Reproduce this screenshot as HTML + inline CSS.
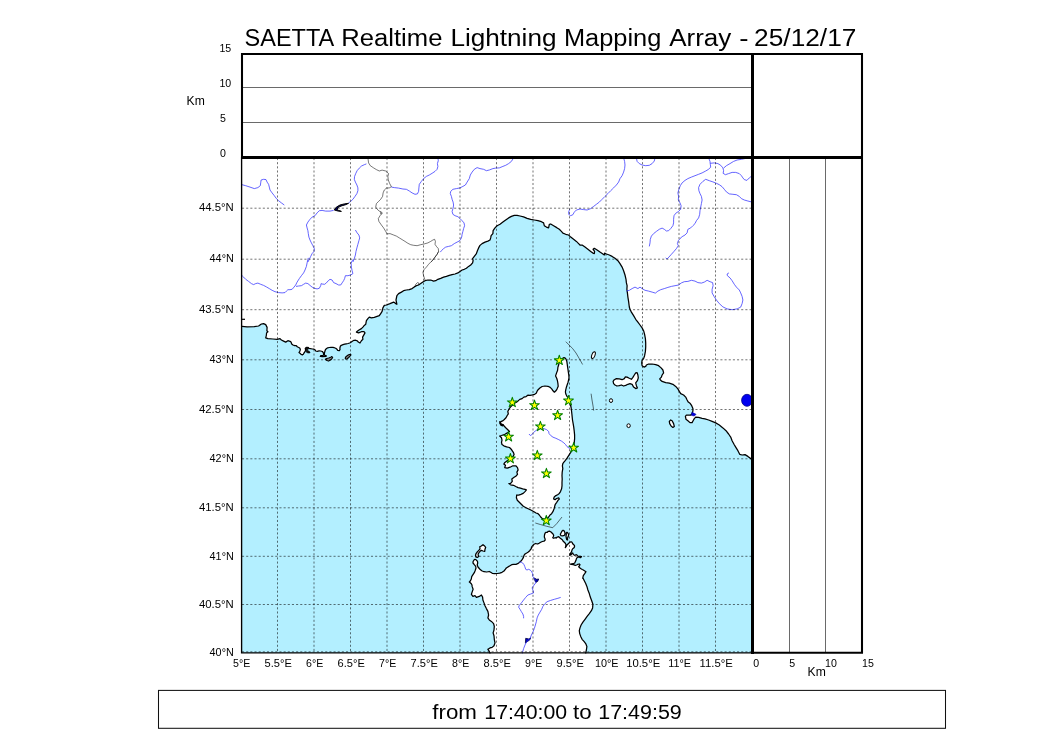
<!DOCTYPE html>
<html><head><meta charset="utf-8"><title>SAETTA Realtime Lightning Mapping Array</title>
<style>html,body{margin:0;padding:0;background:#fff;}svg{display:block;font-family:"Liberation Sans",sans-serif;will-change:transform;}</style>
</head><body>
<svg width="1050" height="750" viewBox="0 0 1050 750">
<rect width="1050" height="750" fill="#fff"/>
<rect x="242" y="157" width="510" height="496" fill="#b3efff"/>
<path d="M242.0 326.4 L247.1 326.9 L254.3 326.6 L258.6 326.0 L261.4 324.0 L263.6 323.6 L265.7 324.6 L267.1 327.4 L266.9 330.7 L267.9 331.7 L266.6 332.9 L266.3 335.7 L265.7 337.9 L267.9 338.6 L272.9 339.0 L277.1 339.3 L280.0 338.6 L281.4 340.0 L283.6 341.1 L285.7 342.1 L287.9 340.7 L290.0 341.3 L291.0 342.0 L291.7 344.0 L293.0 345.0 L294.7 345.7 L296.3 345.7 L297.3 346.7 L298.3 347.3 L299.7 348.0 L300.3 349.3 L300.0 351.0 L299.0 352.5 L300.0 353.3 L301.0 354.3 L302.3 354.9 L303.3 354.3 L304.0 353.0 L305.0 351.7 L305.7 350.0 L305.3 348.7 L306.3 347.7 L308.0 347.5 L309.0 348.3 L310.7 348.7 L312.3 349.0 L313.7 349.1 L315.0 349.7 L315.7 351.0 L317.3 351.3 L319.0 350.9 L320.7 351.0 L322.3 351.5 L323.3 352.7 L323.7 354.3 L323.3 355.3 L320.7 355.7 L320.3 356.5 L322.7 356.7 L326.0 356.5 L326.3 355.8 L324.7 355.3 L324.3 354.0 L324.7 352.0 L325.3 350.0 L326.3 348.7 L327.7 347.8 L329.3 347.5 L331.0 347.3 L332.7 347.3 L334.3 347.7 L335.7 348.3 L337.0 349.3 L337.7 350.3 L339.3 350.7 L340.0 349.7 L339.9 348.0 L340.3 346.3 L341.3 345.3 L343.0 344.7 L344.7 344.2 L346.3 343.8 L348.0 343.5 L349.7 343.0 L351.0 342.3 L352.3 341.3 L354.0 340.3 L355.7 340.2 L357.3 340.9 L358.3 342.0 L360.0 343.0 L361.4 340.7 L362.9 339.3 L362.6 337.1 L363.6 335.4 L365.0 332.9 L364.0 331.7 L361.4 331.7 L358.6 332.9 L356.4 332.1 L358.6 330.3 L361.4 328.6 L362.9 327.1 L364.3 325.4 L365.7 324.3 L366.4 320.7 L367.9 318.6 L369.3 317.1 L371.4 317.9 L374.3 317.4 L377.1 316.4 L379.3 315.7 L380.7 313.6 L382.1 311.4 L382.9 307.9 L384.3 305.4 L386.4 305.0 L390.0 303.6 L393.6 302.1 L395.7 303.6 L396.9 304.3 L396.0 300.0 L396.9 295.7 L398.6 293.6 L401.4 292.1 L403.6 290.7 L406.4 290.0 L409.3 289.7 L412.1 288.6 L414.3 286.9 L416.4 285.7 L418.6 285.0 L420.7 283.6 L422.9 282.1 L425.0 280.7 L427.9 280.0 L430.7 280.0 L433.6 281.1 L435.7 280.7 L437.9 279.3 L440.7 278.3 L443.6 277.1 L446.4 276.4 L449.3 275.4 L452.1 274.6 L455.0 274.0 L457.9 272.9 L460.0 271.4 L462.1 270.0 L464.3 269.3 L466.4 268.3 L468.6 266.4 L470.7 265.0 L472.6 262.9 L473.1 260.7 L472.6 258.6 L474.3 256.4 L476.4 253.6 L477.4 250.7 L478.6 247.9 L480.0 245.4 L482.1 243.6 L485.0 242.1 L487.9 241.1 L490.0 240.0 L490.7 237.9 L491.1 235.7 L492.9 233.6 L493.1 230.7 L495.0 227.9 L497.1 225.7 L500.0 224.3 L502.9 222.1 L505.7 220.0 L508.6 217.9 L511.4 216.4 L514.3 215.4 L517.1 215.4 L520.0 216.0 L523.6 216.9 L527.1 218.3 L530.7 219.3 L534.3 220.0 L537.9 220.7 L541.4 221.7 L543.6 222.9 L544.3 225.7 L546.4 227.1 L548.6 227.9 L549.3 224.3 L550.7 224.0 L553.6 225.7 L556.4 227.4 L559.3 229.3 L561.4 231.4 L562.9 233.1 L565.7 234.3 L568.6 235.0 L570.7 237.1 L573.6 239.3 L576.4 241.4 L578.6 243.6 L580.0 245.0 L582.1 245.0 L585.0 247.1 L587.9 249.3 L590.7 251.4 L592.9 253.1 L594.3 253.6 L594.6 251.4 L593.1 249.3 L594.3 248.3 L597.1 250.0 L600.0 252.1 L602.9 254.0 L604.3 255.0 L604.6 253.1 L606.4 254.0 L609.3 255.0 L612.1 256.4 L615.0 258.3 L617.9 260.7 L620.0 263.6 L622.1 267.1 L623.6 270.7 L625.0 275.0 L626.0 279.3 L626.4 282.9 L627.1 285.7 L626.9 289.3 L627.4 292.9 L627.9 297.1 L628.6 301.4 L629.3 307.0 L630.0 309.3 L631.4 312.1 L633.6 315.7 L635.7 319.3 L637.9 322.1 L640.0 325.0 L642.1 327.9 L643.6 330.7 L644.6 334.3 L645.4 338.6 L645.7 342.9 L645.7 347.1 L645.4 351.4 L644.6 355.7 L643.6 358.6 L642.1 360.3 L641.7 362.9 L642.1 365.7 L644.0 367.1 L645.7 366.4 L646.4 365.0 L648.6 364.0 L652.1 364.0 L655.7 364.6 L658.6 365.7 L661.1 367.9 L662.9 370.0 L663.6 372.9 L662.1 375.0 L661.4 377.1 L659.7 378.9 L660.7 380.3 L662.1 381.4 L665.7 382.6 L669.3 383.1 L672.9 384.3 L675.7 386.4 L677.9 388.9 L679.3 391.4 L680.7 393.6 L683.6 395.0 L685.7 397.1 L687.1 400.0 L688.3 402.1 L690.3 403.6 L691.7 405.7 L692.9 408.6 L692.9 411.1 L692.1 413.6 L690.7 415.0 L686.4 415.0 L685.4 416.4 L686.0 419.3 L687.9 420.7 L690.0 422.6 L692.1 422.6 L693.1 420.7 L694.3 418.6 L695.7 417.1 L698.6 417.4 L702.1 418.3 L705.0 418.9 L708.6 420.0 L712.1 421.4 L715.7 422.9 L719.3 425.0 L722.9 427.9 L726.0 430.7 L728.6 434.0 L730.7 437.1 L732.1 440.7 L734.0 444.3 L735.7 447.1 L737.9 450.7 L739.7 454.3 L742.1 455.0 L745.0 454.6 L747.9 456.4 L750.7 458.6 L752.9 459.7 L760.0 459.5 L760.0 140.0 L230.0 140.0 L230.0 326.4Z" fill="#fff" stroke="none"/>
<path d="M564.0 357.6 L565.2 358.0 L566.0 359.2 L566.8 361.2 L567.2 364.0 L567.6 366.8 L568.0 369.6 L568.4 372.4 L568.8 375.2 L569.0 377.6 L568.6 380.0 L568.0 382.4 L567.2 384.8 L566.4 387.2 L565.8 389.6 L565.4 392.0 L565.8 394.0 L566.8 396.0 L568.0 397.6 L570.2 403.5 L571.1 407.5 L571.6 411.5 L572.1 416.1 L572.5 420.0 L573.1 423.4 L573.7 426.9 L574.2 430.9 L574.6 434.9 L574.6 438.9 L574.2 442.9 L573.7 446.9 L571.9 450.4 L570.2 453.2 L568.5 455.8 L567.0 458.1 L565.4 460.3 L563.9 462.2 L562.8 463.6 L562.4 465.8 L562.8 468.7 L562.2 472.1 L562.0 475.6 L562.2 479.0 L562.0 482.5 L562.0 485.9 L561.6 488.8 L560.5 491.6 L559.3 493.4 L557.6 494.7 L555.9 495.6 L554.2 497.0 L553.6 498.9 L555.1 499.7 L556.5 498.5 L558.8 497.9 L559.3 499.1 L558.0 500.3 L556.7 502.3 L555.3 504.3 L554.7 506.3 L554.0 509.0 L552.9 511.7 L551.6 513.7 L550.0 515.0 L548.7 517.0 L546.7 518.7 L544.0 519.3 L542.0 518.3 L540.7 517.0 L539.3 515.0 L538.0 513.7 L536.0 513.0 L534.0 511.7 L531.3 510.3 L528.7 509.0 L526.0 507.7 L523.3 506.3 L521.3 504.3 L519.3 502.3 L517.3 500.3 L516.4 497.7 L516.7 495.0 L518.7 495.1 L520.9 494.3 L523.2 493.4 L525.0 491.6 L526.4 489.9 L525.0 489.3 L522.7 488.8 L520.4 488.2 L518.1 487.6 L515.8 486.5 L513.5 485.3 L510.6 484.8 L508.9 483.6 L510.6 483.3 L512.3 481.3 L511.8 479.0 L514.1 477.3 L515.8 476.2 L517.5 474.4 L516.9 472.1 L518.1 469.9 L517.5 467.6 L515.8 465.8 L512.9 465.8 L510.1 467.2 L507.2 468.1 L504.7 467.6 L505.5 465.3 L503.8 464.1 L504.9 462.4 L507.2 460.7 L510.1 459.0 L512.9 456.7 L514.1 454.4 L513.5 452.7 L512.3 450.9 L511.2 449.2 L509.5 447.5 L506.6 446.9 L503.8 445.8 L502.0 444.6 L501.5 442.3 L502.0 440.1 L501.5 437.8 L499.7 436.0 L501.5 435.5 L504.9 434.3 L507.8 432.6 L509.5 431.5 L507.8 429.7 L506.0 428.0 L504.3 426.3 L503.2 424.6 L500.9 424.0 L499.7 421.7 L502.6 425.8 L500.9 425.2 L499.7 422.9 L500.9 421.6 L502.6 420.9 L504.3 419.5 L506.0 417.8 L507.2 415.5 L508.3 413.8 L507.8 411.5 L508.9 409.2 L510.6 406.9 L512.3 405.2 L514.1 403.5 L516.4 402.3 L518.1 400.9 L519.8 399.4 L522.1 398.6 L523.8 397.1 L526.1 396.6 L527.8 395.2 L530.1 395.4 L532.4 394.9 L534.7 394.3 L536.4 393.1 L537.0 391.4 L538.1 389.7 L539.9 388.0 L542.1 386.5 L545.0 386.0 L547.9 386.3 L550.2 387.4 L551.9 389.1 L553.0 390.8 L554.4 392.2 L555.9 390.8 L557.0 389.1 L558.2 386.3 L557.9 383.4 L557.4 380.5 L556.7 378.2 L555.6 375.9 L556.5 373.1 L557.6 370.2 L557.9 367.3 L558.8 364.5 L559.3 361.6 L561.1 359.3ZM475.0 559.3 L476.3 560.0 L477.5 561.3 L477.7 563.0 L477.2 565.0 L478.0 567.0 L479.7 569.0 L481.7 570.7 L484.0 571.7 L486.7 572.0 L489.3 571.5 L490.7 572.3 L492.3 573.3 L494.7 573.7 L497.3 573.5 L499.7 573.1 L502.0 572.3 L504.0 571.0 L505.3 569.3 L506.3 568.0 L508.0 566.9 L510.0 565.7 L511.7 564.7 L513.7 564.3 L516.0 564.3 L517.7 563.7 L519.3 562.5 L521.0 561.0 L522.3 559.3 L523.3 557.7 L524.0 555.3 L525.0 554.0 L526.7 553.0 L528.3 552.0 L529.7 550.7 L531.0 549.0 L532.0 547.3 L531.3 547.3 L532.7 545.7 L534.0 544.3 L535.7 543.5 L537.3 544.0 L539.0 543.3 L540.7 542.3 L542.3 541.5 L544.0 541.2 L545.2 540.0 L545.0 538.7 L544.3 537.0 L544.5 535.0 L545.0 533.3 L546.0 532.3 L547.3 532.3 L548.3 531.3 L549.7 531.2 L551.0 532.0 L552.0 533.0 L553.0 534.0 L553.7 535.3 L553.3 536.7 L552.7 537.7 L553.7 538.3 L555.0 537.7 L556.3 538.0 L557.3 537.0 L558.7 536.7 L559.7 537.7 L561.0 538.7 L562.3 539.7 L563.0 541.0 L564.3 542.3 L565.3 543.3 L566.0 544.7 L565.7 546.3 L565.3 547.7 L566.3 546.3 L567.0 545.0 L568.0 544.0 L569.0 543.0 L570.0 542.3 L571.0 541.7 L572.0 542.3 L572.7 543.7 L573.7 544.7 L574.5 545.7 L574.5 547.0 L573.7 548.0 L572.7 548.7 L572.0 550.0 L571.7 551.3 L571.0 552.7 L570.0 554.0 L569.7 555.3 L570.7 555.0 L571.7 554.0 L572.7 553.0 L573.3 554.0 L574.0 555.0 L575.0 555.3 L576.0 554.7 L577.0 555.0 L577.7 556.0 L579.0 556.3 L580.3 556.3 L581.5 556.7 L580.3 557.7 L579.3 557.0 L578.0 557.0 L577.0 557.7 L576.3 559.0 L576.0 560.3 L575.3 561.7 L574.7 563.0 L573.3 563.7 L571.3 563.9 L569.7 564.0 L571.3 564.5 L573.3 564.7 L575.3 565.3 L576.7 565.0 L577.7 564.3 L579.3 564.0 L580.0 564.7 L579.3 566.0 L578.7 566.7 L579.7 567.7 L581.0 568.7 L582.3 569.5 L583.3 570.0 L586.0 571.7 L584.7 573.7 L583.3 575.7 L582.7 578.3 L582.9 577.9 L584.3 580.7 L585.7 583.6 L586.9 586.4 L587.9 590.0 L589.3 593.6 L590.3 597.1 L591.7 600.7 L592.9 604.3 L592.6 607.9 L591.4 610.7 L589.3 613.6 L587.1 616.4 L585.0 619.3 L582.9 622.1 L581.1 625.0 L580.0 627.9 L579.3 630.7 L579.7 633.6 L580.7 636.4 L582.1 639.3 L584.0 641.4 L585.7 643.6 L586.9 646.4 L586.4 650.0 L585.7 652.9 L585.7 660.0 L490.0 660.0 L490.0 652.9 L489.3 651.4 L487.9 649.3 L490.0 647.9 L492.1 647.4 L494.0 645.7 L495.0 642.9 L494.3 639.3 L494.0 635.7 L493.1 632.9 L494.0 630.0 L494.3 626.4 L493.6 623.6 L491.4 621.4 L489.3 620.0 L487.9 617.9 L488.6 615.0 L487.9 611.4 L486.4 608.6 L485.0 605.7 L484.0 602.9 L482.9 600.0 L482.6 597.1 L481.4 595.0 L479.3 596.4 L476.4 597.4 L475.0 595.7 L472.9 596.4 L471.4 594.3 L472.1 592.1 L473.1 589.3 L472.1 586.4 L472.0 585.0 L471.3 583.7 L470.3 582.7 L469.3 582.0 L470.3 581.0 L471.3 579.0 L471.7 576.7 L473.0 574.7 L474.3 572.7 L475.3 570.3 L476.0 568.0 L475.7 566.3 L474.3 564.7 L473.0 563.0 L473.0 561.7 L474.0 560.0ZM613.1 381.4 L614.3 379.7 L616.4 378.6 L619.3 378.9 L622.1 379.7 L624.3 378.6 L625.4 376.9 L627.1 377.1 L629.3 378.3 L631.4 379.3 L632.9 377.4 L634.3 375.0 L635.7 372.9 L637.1 372.6 L637.9 375.0 L638.3 377.9 L637.4 380.7 L635.7 382.9 L636.4 385.7 L637.4 387.9 L635.7 388.6 L633.6 387.1 L632.1 384.3 L630.0 383.6 L627.9 384.3 L625.7 385.4 L623.6 386.0 L621.4 385.0 L619.3 385.7 L616.9 386.0 L615.0 385.0 L613.6 383.6ZM669.3 421.4 L670.7 420.0 L672.1 420.7 L673.6 423.6 L674.3 426.4 L672.9 427.4 L671.1 426.0 L669.7 423.6ZM479.7 546.7 L481.3 546.0 L483.0 544.7 L484.3 545.7 L485.7 547.3 L485.0 549.3 L484.7 551.3 L483.0 551.0 L481.3 550.3 L480.7 550.7 L479.5 552.0 L478.3 553.7 L478.1 555.0 L478.8 556.3 L477.7 557.3 L476.0 557.1 L475.5 555.3 L476.0 553.7 L477.0 552.3 L478.3 550.9 L479.9 549.1 L480.0 548.0ZM560.3 534.3 L561.0 533.0 L561.9 531.3 L563.0 530.3 L564.0 530.7 L564.7 532.0 L565.0 533.7 L564.7 535.0 L563.7 535.7 L562.3 535.9 L561.0 535.7ZM566.3 533.0 L567.0 532.3 L568.0 533.3 L568.7 534.7 L568.3 536.3 L567.7 537.7 L567.3 539.0 L567.7 540.0 L566.7 539.7 L566.3 538.0 L566.0 536.3 L566.3 534.7Z" fill="#fff" stroke="none"/>
<path d="M242.0 326.4 L247.1 326.9 L254.3 326.6 L258.6 326.0 L261.4 324.0 L263.6 323.6 L265.7 324.6 L267.1 327.4 L266.9 330.7 L267.9 331.7 L266.6 332.9 L266.3 335.7 L265.7 337.9 L267.9 338.6 L272.9 339.0 L277.1 339.3 L280.0 338.6 L281.4 340.0 L283.6 341.1 L285.7 342.1 L287.9 340.7 L290.0 341.3 L291.0 342.0 L291.7 344.0 L293.0 345.0 L294.7 345.7 L296.3 345.7 L297.3 346.7 L298.3 347.3 L299.7 348.0 L300.3 349.3 L300.0 351.0 L299.0 352.5 L300.0 353.3 L301.0 354.3 L302.3 354.9 L303.3 354.3 L304.0 353.0 L305.0 351.7 L305.7 350.0 L305.3 348.7 L306.3 347.7 L308.0 347.5 L309.0 348.3 L310.7 348.7 L312.3 349.0 L313.7 349.1 L315.0 349.7 L315.7 351.0 L317.3 351.3 L319.0 350.9 L320.7 351.0 L322.3 351.5 L323.3 352.7 L323.7 354.3 L323.3 355.3 L320.7 355.7 L320.3 356.5 L322.7 356.7 L326.0 356.5 L326.3 355.8 L324.7 355.3 L324.3 354.0 L324.7 352.0 L325.3 350.0 L326.3 348.7 L327.7 347.8 L329.3 347.5 L331.0 347.3 L332.7 347.3 L334.3 347.7 L335.7 348.3 L337.0 349.3 L337.7 350.3 L339.3 350.7 L340.0 349.7 L339.9 348.0 L340.3 346.3 L341.3 345.3 L343.0 344.7 L344.7 344.2 L346.3 343.8 L348.0 343.5 L349.7 343.0 L351.0 342.3 L352.3 341.3 L354.0 340.3 L355.7 340.2 L357.3 340.9 L358.3 342.0 L360.0 343.0 L361.4 340.7 L362.9 339.3 L362.6 337.1 L363.6 335.4 L365.0 332.9 L364.0 331.7 L361.4 331.7 L358.6 332.9 L356.4 332.1 L358.6 330.3 L361.4 328.6 L362.9 327.1 L364.3 325.4 L365.7 324.3 L366.4 320.7 L367.9 318.6 L369.3 317.1 L371.4 317.9 L374.3 317.4 L377.1 316.4 L379.3 315.7 L380.7 313.6 L382.1 311.4 L382.9 307.9 L384.3 305.4 L386.4 305.0 L390.0 303.6 L393.6 302.1 L395.7 303.6 L396.9 304.3 L396.0 300.0 L396.9 295.7 L398.6 293.6 L401.4 292.1 L403.6 290.7 L406.4 290.0 L409.3 289.7 L412.1 288.6 L414.3 286.9 L416.4 285.7 L418.6 285.0 L420.7 283.6 L422.9 282.1 L425.0 280.7 L427.9 280.0 L430.7 280.0 L433.6 281.1 L435.7 280.7 L437.9 279.3 L440.7 278.3 L443.6 277.1 L446.4 276.4 L449.3 275.4 L452.1 274.6 L455.0 274.0 L457.9 272.9 L460.0 271.4 L462.1 270.0 L464.3 269.3 L466.4 268.3 L468.6 266.4 L470.7 265.0 L472.6 262.9 L473.1 260.7 L472.6 258.6 L474.3 256.4 L476.4 253.6 L477.4 250.7 L478.6 247.9 L480.0 245.4 L482.1 243.6 L485.0 242.1 L487.9 241.1 L490.0 240.0 L490.7 237.9 L491.1 235.7 L492.9 233.6 L493.1 230.7 L495.0 227.9 L497.1 225.7 L500.0 224.3 L502.9 222.1 L505.7 220.0 L508.6 217.9 L511.4 216.4 L514.3 215.4 L517.1 215.4 L520.0 216.0 L523.6 216.9 L527.1 218.3 L530.7 219.3 L534.3 220.0 L537.9 220.7 L541.4 221.7 L543.6 222.9 L544.3 225.7 L546.4 227.1 L548.6 227.9 L549.3 224.3 L550.7 224.0 L553.6 225.7 L556.4 227.4 L559.3 229.3 L561.4 231.4 L562.9 233.1 L565.7 234.3 L568.6 235.0 L570.7 237.1 L573.6 239.3 L576.4 241.4 L578.6 243.6 L580.0 245.0 L582.1 245.0 L585.0 247.1 L587.9 249.3 L590.7 251.4 L592.9 253.1 L594.3 253.6 L594.6 251.4 L593.1 249.3 L594.3 248.3 L597.1 250.0 L600.0 252.1 L602.9 254.0 L604.3 255.0 L604.6 253.1 L606.4 254.0 L609.3 255.0 L612.1 256.4 L615.0 258.3 L617.9 260.7 L620.0 263.6 L622.1 267.1 L623.6 270.7 L625.0 275.0 L626.0 279.3 L626.4 282.9 L627.1 285.7 L626.9 289.3 L627.4 292.9 L627.9 297.1 L628.6 301.4 L629.3 307.0 L630.0 309.3 L631.4 312.1 L633.6 315.7 L635.7 319.3 L637.9 322.1 L640.0 325.0 L642.1 327.9 L643.6 330.7 L644.6 334.3 L645.4 338.6 L645.7 342.9 L645.7 347.1 L645.4 351.4 L644.6 355.7 L643.6 358.6 L642.1 360.3 L641.7 362.9 L642.1 365.7 L644.0 367.1 L645.7 366.4 L646.4 365.0 L648.6 364.0 L652.1 364.0 L655.7 364.6 L658.6 365.7 L661.1 367.9 L662.9 370.0 L663.6 372.9 L662.1 375.0 L661.4 377.1 L659.7 378.9 L660.7 380.3 L662.1 381.4 L665.7 382.6 L669.3 383.1 L672.9 384.3 L675.7 386.4 L677.9 388.9 L679.3 391.4 L680.7 393.6 L683.6 395.0 L685.7 397.1 L687.1 400.0 L688.3 402.1 L690.3 403.6 L691.7 405.7 L692.9 408.6 L692.9 411.1 L692.1 413.6 L690.7 415.0 L686.4 415.0 L685.4 416.4 L686.0 419.3 L687.9 420.7 L690.0 422.6 L692.1 422.6 L693.1 420.7 L694.3 418.6 L695.7 417.1 L698.6 417.4 L702.1 418.3 L705.0 418.9 L708.6 420.0 L712.1 421.4 L715.7 422.9 L719.3 425.0 L722.9 427.9 L726.0 430.7 L728.6 434.0 L730.7 437.1 L732.1 440.7 L734.0 444.3 L735.7 447.1 L737.9 450.7 L739.7 454.3 L742.1 455.0 L745.0 454.6 L747.9 456.4 L750.7 458.6 L752.9 459.7M564.0 357.6 L565.2 358.0 L566.0 359.2 L566.8 361.2 L567.2 364.0 L567.6 366.8 L568.0 369.6 L568.4 372.4 L568.8 375.2 L569.0 377.6 L568.6 380.0 L568.0 382.4 L567.2 384.8 L566.4 387.2 L565.8 389.6 L565.4 392.0 L565.8 394.0 L566.8 396.0 L568.0 397.6 L570.2 403.5 L571.1 407.5 L571.6 411.5 L572.1 416.1 L572.5 420.0 L573.1 423.4 L573.7 426.9 L574.2 430.9 L574.6 434.9 L574.6 438.9 L574.2 442.9 L573.7 446.9 L571.9 450.4 L570.2 453.2 L568.5 455.8 L567.0 458.1 L565.4 460.3 L563.9 462.2 L562.8 463.6 L562.4 465.8 L562.8 468.7 L562.2 472.1 L562.0 475.6 L562.2 479.0 L562.0 482.5 L562.0 485.9 L561.6 488.8 L560.5 491.6 L559.3 493.4 L557.6 494.7 L555.9 495.6 L554.2 497.0 L553.6 498.9 L555.1 499.7 L556.5 498.5 L558.8 497.9 L559.3 499.1 L558.0 500.3 L556.7 502.3 L555.3 504.3 L554.7 506.3 L554.0 509.0 L552.9 511.7 L551.6 513.7 L550.0 515.0 L548.7 517.0 L546.7 518.7 L544.0 519.3 L542.0 518.3 L540.7 517.0 L539.3 515.0 L538.0 513.7 L536.0 513.0 L534.0 511.7 L531.3 510.3 L528.7 509.0 L526.0 507.7 L523.3 506.3 L521.3 504.3 L519.3 502.3 L517.3 500.3 L516.4 497.7 L516.7 495.0 L518.7 495.1 L520.9 494.3 L523.2 493.4 L525.0 491.6 L526.4 489.9 L525.0 489.3 L522.7 488.8 L520.4 488.2 L518.1 487.6 L515.8 486.5 L513.5 485.3 L510.6 484.8 L508.9 483.6 L510.6 483.3 L512.3 481.3 L511.8 479.0 L514.1 477.3 L515.8 476.2 L517.5 474.4 L516.9 472.1 L518.1 469.9 L517.5 467.6 L515.8 465.8 L512.9 465.8 L510.1 467.2 L507.2 468.1 L504.7 467.6 L505.5 465.3 L503.8 464.1 L504.9 462.4 L507.2 460.7 L510.1 459.0 L512.9 456.7 L514.1 454.4 L513.5 452.7 L512.3 450.9 L511.2 449.2 L509.5 447.5 L506.6 446.9 L503.8 445.8 L502.0 444.6 L501.5 442.3 L502.0 440.1 L501.5 437.8 L499.7 436.0 L501.5 435.5 L504.9 434.3 L507.8 432.6 L509.5 431.5 L507.8 429.7 L506.0 428.0 L504.3 426.3 L503.2 424.6 L500.9 424.0 L499.7 421.7 L502.6 425.8 L500.9 425.2 L499.7 422.9 L500.9 421.6 L502.6 420.9 L504.3 419.5 L506.0 417.8 L507.2 415.5 L508.3 413.8 L507.8 411.5 L508.9 409.2 L510.6 406.9 L512.3 405.2 L514.1 403.5 L516.4 402.3 L518.1 400.9 L519.8 399.4 L522.1 398.6 L523.8 397.1 L526.1 396.6 L527.8 395.2 L530.1 395.4 L532.4 394.9 L534.7 394.3 L536.4 393.1 L537.0 391.4 L538.1 389.7 L539.9 388.0 L542.1 386.5 L545.0 386.0 L547.9 386.3 L550.2 387.4 L551.9 389.1 L553.0 390.8 L554.4 392.2 L555.9 390.8 L557.0 389.1 L558.2 386.3 L557.9 383.4 L557.4 380.5 L556.7 378.2 L555.6 375.9 L556.5 373.1 L557.6 370.2 L557.9 367.3 L558.8 364.5 L559.3 361.6 L561.1 359.3ZM475.0 559.3 L476.3 560.0 L477.5 561.3 L477.7 563.0 L477.2 565.0 L478.0 567.0 L479.7 569.0 L481.7 570.7 L484.0 571.7 L486.7 572.0 L489.3 571.5 L490.7 572.3 L492.3 573.3 L494.7 573.7 L497.3 573.5 L499.7 573.1 L502.0 572.3 L504.0 571.0 L505.3 569.3 L506.3 568.0 L508.0 566.9 L510.0 565.7 L511.7 564.7 L513.7 564.3 L516.0 564.3 L517.7 563.7 L519.3 562.5 L521.0 561.0 L522.3 559.3 L523.3 557.7 L524.0 555.3 L525.0 554.0 L526.7 553.0 L528.3 552.0 L529.7 550.7 L531.0 549.0 L532.0 547.3 L531.3 547.3 L532.7 545.7 L534.0 544.3 L535.7 543.5 L537.3 544.0 L539.0 543.3 L540.7 542.3 L542.3 541.5 L544.0 541.2 L545.2 540.0 L545.0 538.7 L544.3 537.0 L544.5 535.0 L545.0 533.3 L546.0 532.3 L547.3 532.3 L548.3 531.3 L549.7 531.2 L551.0 532.0 L552.0 533.0 L553.0 534.0 L553.7 535.3 L553.3 536.7 L552.7 537.7 L553.7 538.3 L555.0 537.7 L556.3 538.0 L557.3 537.0 L558.7 536.7 L559.7 537.7 L561.0 538.7 L562.3 539.7 L563.0 541.0 L564.3 542.3 L565.3 543.3 L566.0 544.7 L565.7 546.3 L565.3 547.7 L566.3 546.3 L567.0 545.0 L568.0 544.0 L569.0 543.0 L570.0 542.3 L571.0 541.7 L572.0 542.3 L572.7 543.7 L573.7 544.7 L574.5 545.7 L574.5 547.0 L573.7 548.0 L572.7 548.7 L572.0 550.0 L571.7 551.3 L571.0 552.7 L570.0 554.0 L569.7 555.3 L570.7 555.0 L571.7 554.0 L572.7 553.0 L573.3 554.0 L574.0 555.0 L575.0 555.3 L576.0 554.7 L577.0 555.0 L577.7 556.0 L579.0 556.3 L580.3 556.3 L581.5 556.7 L580.3 557.7 L579.3 557.0 L578.0 557.0 L577.0 557.7 L576.3 559.0 L576.0 560.3 L575.3 561.7 L574.7 563.0 L573.3 563.7 L571.3 563.9 L569.7 564.0 L571.3 564.5 L573.3 564.7 L575.3 565.3 L576.7 565.0 L577.7 564.3 L579.3 564.0 L580.0 564.7 L579.3 566.0 L578.7 566.7 L579.7 567.7 L581.0 568.7 L582.3 569.5 L583.3 570.0 L586.0 571.7 L584.7 573.7 L583.3 575.7 L582.7 578.3 L582.9 577.9 L584.3 580.7 L585.7 583.6 L586.9 586.4 L587.9 590.0 L589.3 593.6 L590.3 597.1 L591.7 600.7 L592.9 604.3 L592.6 607.9 L591.4 610.7 L589.3 613.6 L587.1 616.4 L585.0 619.3 L582.9 622.1 L581.1 625.0 L580.0 627.9 L579.3 630.7 L579.7 633.6 L580.7 636.4 L582.1 639.3 L584.0 641.4 L585.7 643.6 L586.9 646.4 L586.4 650.0 L585.7 652.9 L585.7 660.0 L490.0 660.0 L490.0 652.9 L489.3 651.4 L487.9 649.3 L490.0 647.9 L492.1 647.4 L494.0 645.7 L495.0 642.9 L494.3 639.3 L494.0 635.7 L493.1 632.9 L494.0 630.0 L494.3 626.4 L493.6 623.6 L491.4 621.4 L489.3 620.0 L487.9 617.9 L488.6 615.0 L487.9 611.4 L486.4 608.6 L485.0 605.7 L484.0 602.9 L482.9 600.0 L482.6 597.1 L481.4 595.0 L479.3 596.4 L476.4 597.4 L475.0 595.7 L472.9 596.4 L471.4 594.3 L472.1 592.1 L473.1 589.3 L472.1 586.4 L472.0 585.0 L471.3 583.7 L470.3 582.7 L469.3 582.0 L470.3 581.0 L471.3 579.0 L471.7 576.7 L473.0 574.7 L474.3 572.7 L475.3 570.3 L476.0 568.0 L475.7 566.3 L474.3 564.7 L473.0 563.0 L473.0 561.7 L474.0 560.0ZM613.1 381.4 L614.3 379.7 L616.4 378.6 L619.3 378.9 L622.1 379.7 L624.3 378.6 L625.4 376.9 L627.1 377.1 L629.3 378.3 L631.4 379.3 L632.9 377.4 L634.3 375.0 L635.7 372.9 L637.1 372.6 L637.9 375.0 L638.3 377.9 L637.4 380.7 L635.7 382.9 L636.4 385.7 L637.4 387.9 L635.7 388.6 L633.6 387.1 L632.1 384.3 L630.0 383.6 L627.9 384.3 L625.7 385.4 L623.6 386.0 L621.4 385.0 L619.3 385.7 L616.9 386.0 L615.0 385.0 L613.6 383.6ZM669.3 421.4 L670.7 420.0 L672.1 420.7 L673.6 423.6 L674.3 426.4 L672.9 427.4 L671.1 426.0 L669.7 423.6ZM479.7 546.7 L481.3 546.0 L483.0 544.7 L484.3 545.7 L485.7 547.3 L485.0 549.3 L484.7 551.3 L483.0 551.0 L481.3 550.3 L480.7 550.7 L479.5 552.0 L478.3 553.7 L478.1 555.0 L478.8 556.3 L477.7 557.3 L476.0 557.1 L475.5 555.3 L476.0 553.7 L477.0 552.3 L478.3 550.9 L479.9 549.1 L480.0 548.0ZM560.3 534.3 L561.0 533.0 L561.9 531.3 L563.0 530.3 L564.0 530.7 L564.7 532.0 L565.0 533.7 L564.7 535.0 L563.7 535.7 L562.3 535.9 L561.0 535.7ZM566.3 533.0 L567.0 532.3 L568.0 533.3 L568.7 534.7 L568.3 536.3 L567.7 537.7 L567.3 539.0 L567.7 540.0 L566.7 539.7 L566.3 538.0 L566.0 536.3 L566.3 534.7Z" fill="none" stroke="#000" stroke-width="1.25" stroke-linejoin="round" stroke-linecap="round"/>
<path d="M325.3 359.3 L326.7 358.5 L328.7 358.0 L330.7 357.3 L331.9 356.5 L332.7 357.5 L331.7 359.0 L330.0 360.2 L328.5 361.1 L327.0 360.5ZM345.2 358.3 L345.7 357.0 L347.0 355.8 L348.7 354.7 L350.3 354.2 L351.0 354.9 L350.0 356.2 L348.7 357.5 L347.2 358.7 L345.9 359.1Z" fill="#8a8a8a" stroke="#000" stroke-width="1.1" stroke-linejoin="round"/>
<ellipse cx="593.4" cy="355.1" rx="1.6" ry="3.6" transform="rotate(20 593.4 355.1)" fill="#fff" stroke="#000" stroke-width="1"/>
<ellipse cx="628.6" cy="425.7" rx="1.7" ry="1.9" transform="rotate(0 628.6 425.7)" fill="#fff" stroke="#000" stroke-width="1"/>
<ellipse cx="611.0" cy="400.6" rx="1.6" ry="1.9" transform="rotate(0 611.0 400.6)" fill="#fff" stroke="#000" stroke-width="1"/>
<path d="M242 319.3H245" stroke="#000" stroke-width="1.2"/>
<ellipse cx="747" cy="400.3" rx="5.4" ry="6" fill="#0000f0" stroke="#00008a" stroke-width="0.8"/>
<path d="M348.6 203.3 L344.3 203.9 L340.0 205.0 L336.4 207.1 L334.3 210.0 L337.9 211.0 L341.4 211.4 L338.6 210.4 L336.9 209.3 L338.6 207.1 L342.1 205.7 L345.7 204.7Z" fill="#000060" stroke="#000" stroke-width="1"/>
<path d="M691.9 412.1 L696.1 414.3 L694.3 416.1 L691.4 415.4Z" fill="#0000e0" stroke="#00008a" stroke-width="0.5"/>
<path d="M534.0 577.9 L536.7 579.3 L538.7 579.0 L537.7 581.4 L536.0 582.3 L534.7 580.3Z" fill="#0000c0" stroke="#000040" stroke-width="0.8"/>
<path d="M525.7 638.3 L528.6 638.9 L530.7 637.9 L529.7 640.0 L527.1 641.7 L525.4 643.1Z" fill="#0000c0" stroke="#000040" stroke-width="0.8"/>
<path d="M305.2 348.0 L306.3 347.2 L308.1 347.2 L309.0 348.2 L308.0 349.1 L307.5 350.3 L309.0 351.3 L310.0 352.0 L309.9 352.9 L308.3 353.0 L306.7 352.5 L306.0 351.3 L306.3 350.0 L305.5 349.1Z" fill="#111" stroke="#000" stroke-width="0.6"/>
<path d="M242.0 184.7 L245.7 185.7 L250.0 187.1 L254.3 188.6 L257.9 187.6 L260.3 185.7 L260.7 182.9 L261.1 180.0 L263.6 179.3 L266.0 179.6 L267.1 182.1 L268.6 184.3 L269.3 187.1 L270.0 190.0 L272.1 192.9 L274.3 195.7 L276.4 198.6 L278.6 200.7 L281.4 202.9 L284.3 205.0M366.4 163.9 L364.3 164.7 L361.4 166.1 L359.3 168.1 L357.1 170.7 L355.7 173.6 L354.6 176.4 L354.3 179.3 L355.4 182.1 L356.9 185.0 L357.9 187.9 L357.9 190.7 L356.9 193.6 L355.0 196.4 L352.9 199.3 L350.7 201.4 L348.6 202.9M333.6 210.4 L330.0 211.1 L325.7 211.1 L322.1 210.4 L319.3 210.7 L317.1 212.9 L315.0 215.7 L312.1 217.1 L310.0 219.3 L307.9 222.1 L306.4 225.0 L307.1 227.9 L307.9 230.7 L308.3 233.6 L308.9 237.1 L310.0 240.0 L311.4 242.9 L312.9 245.7 L314.3 248.6 L314.0 251.4 L312.1 253.6 L310.7 256.4 L309.3 259.3 L307.9 262.0M355.4 230.0 L357.1 232.9 L358.9 235.0 L359.7 237.9 L358.9 240.7 L357.9 244.3 L356.9 247.9 L356.0 251.4 L355.4 255.0 L354.3 258.6 L352.9 262.0M391.4 187.1 L394.3 187.6 L398.6 188.1 L402.9 189.0 L406.4 189.3 L409.3 191.0 L412.1 192.9 L415.0 194.3 L417.4 193.9 L418.6 191.4 L418.9 187.9 L419.3 184.3 L421.4 181.4 L423.6 178.6 L426.4 176.4 L429.3 175.0 L432.1 173.3 L435.0 171.4 L437.1 169.3 L437.9 166.4 L437.4 163.6 L438.3 160.7 L437.9 157.9M513.6 157.9 L511.4 161.4 L508.6 163.6 L505.7 165.3 L502.9 166.4 L499.3 167.9 L495.7 168.1 L492.9 168.6 L489.3 170.0 L486.4 170.7 L483.6 169.3 L480.0 168.6 L477.1 167.6 L474.3 169.3 L472.1 172.1 L470.3 175.0 L469.3 178.6 L467.1 182.1 L465.4 185.0 L462.9 186.4 L460.0 187.9 L456.4 188.6 L452.9 189.3 L450.7 191.4 L450.3 193.6 L451.4 196.4 L452.1 199.3 L453.1 202.1 L453.6 205.0 L453.1 208.1 L452.1 211.4 L452.9 214.3 L455.0 215.7 L457.9 216.7 L460.0 218.6 L462.1 220.7 L464.0 222.9 L464.6 225.7 L463.6 228.6 L462.9 231.4 L462.1 234.3 L461.7 237.1 L460.7 239.3 L459.3 241.0 L457.1 242.1 L454.3 243.6 L451.4 245.7 L448.6 246.4 L445.7 247.1 L443.6 248.6 L441.7 250.4 L440.3 252.1M623.6 157.9 L624.6 161.4 L625.0 165.0 L624.6 168.6 L623.6 172.1 L622.1 175.7 L620.0 178.6 L618.6 182.1 L616.4 185.0 L613.6 187.9 L610.7 190.7 L607.9 193.6 L605.0 196.4 L602.1 199.3 L599.3 202.1 L596.4 204.3 L593.6 206.4 L590.7 208.6 L587.1 210.0 L583.6 209.6 L580.0 209.0 L576.4 210.0 L574.3 212.1 L572.9 214.7 L570.7 215.7 L568.9 214.7 L568.6 212.1 L569.7 209.3M636.4 157.9 L637.1 161.4 L639.3 163.6 L642.1 165.0 L645.7 165.7 L649.3 165.3 L652.1 163.6 L654.3 161.0 L655.0 157.9M708.6 157.9 L710.0 161.4 L710.3 164.3 L710.7 167.1 L708.6 169.3 L705.7 171.0 L702.1 172.9 L698.6 174.3 L695.0 175.7 L691.4 177.1 L687.9 178.6 L685.0 180.4 L682.1 182.9 L680.3 185.7 L678.9 189.3 L677.9 192.9 L678.6 196.4 L678.3 200.0 L680.0 202.9 L681.1 205.7 L680.7 209.3 L678.6 211.4 L675.7 213.3 L674.0 215.7 L673.6 219.3 L673.6 222.9 L672.9 225.7 L670.7 228.6 L668.6 230.7 L666.4 231.0 L664.3 229.3 L662.1 228.1 L659.3 229.3 L656.4 231.4 L653.6 233.6 L651.4 236.1 L650.3 239.3 L650.0 242.9 L649.3 246.4M710.3 163.3 L714.3 162.9 L717.9 163.6 L720.7 165.3 L722.9 167.9 L723.6 170.7 L723.1 173.3 L725.4 174.7 L728.6 173.6 L732.1 172.4 L735.7 172.4 L739.3 173.6 L741.4 175.7 L742.9 177.9 L744.3 179.6 L746.9 180.4 L749.3 177.9 L752.1 175.7M723.6 168.1 L726.4 165.7 L730.0 163.6 L733.6 161.4 L737.1 160.0 L741.4 159.3 L747.1 158.1M665.7 257.9 L667.1 259.0 L668.9 257.1 L671.4 254.3 L674.0 251.4 L676.4 248.6 L678.3 245.7 L677.4 243.6 L678.3 240.7 L680.0 238.6 L682.1 236.7 L685.0 235.0 L687.1 232.9 L687.9 229.3 L690.7 227.9 L692.9 225.7 L695.0 223.6 L696.4 220.7 L698.6 217.9 L699.7 214.3 L700.0 210.7 L700.7 207.1 L701.4 203.6 L702.1 200.0 L701.4 196.4 L700.0 193.6 L698.9 190.7 L698.6 187.6 L700.0 184.3 L702.9 181.4 L705.7 179.3 L709.3 180.7 L712.9 181.9 L716.4 183.3 L719.3 184.7 L722.1 186.7 L724.3 189.3 L726.4 191.9 L729.3 193.9 L732.9 194.3 L736.4 194.7 L739.3 196.4 L741.4 198.6 L744.3 200.0 L747.9 201.0 L752.1 202.1M626.4 291.1 L629.3 290.3 L632.1 288.6 L635.0 287.1 L637.9 288.6 L640.0 287.1 L642.1 288.6 L645.0 290.3 L648.6 291.1 L652.1 292.1 L655.4 293.1 L657.9 291.1 L660.7 289.7 L664.3 288.6 L667.9 287.4 L671.4 286.4 L675.0 285.7 L678.6 285.0 L681.4 282.9 L684.3 281.7 L687.9 281.4 L691.4 280.3 L695.0 281.1 L697.9 282.6 L701.4 283.1 L704.3 282.1 L707.1 280.3 L710.0 281.7 L712.6 282.6 L713.1 285.7 L712.1 289.3 L712.1 292.9 L714.0 296.4 L716.4 300.0 L719.3 303.6 L722.9 306.9 L727.1 308.9 L732.1 309.7 L737.1 308.9 L740.7 307.1 L742.1 303.6 L742.9 300.0 L742.1 296.4 L740.7 292.9 L739.3 290.0 L736.4 287.1 L734.3 284.3 L732.1 280.7 L730.0 277.9 L727.4 275.7 L727.1 274.0 L728.9 272.9M308.3 257.9 L307.9 259.3 L307.1 262.9 L306.4 266.4 L305.0 270.0 L303.6 272.9 L301.4 275.7 L299.3 278.6 L297.1 282.1 L295.7 285.0 L294.0 287.1 L292.1 289.3 L290.0 289.7 L287.9 289.7 L286.4 291.1 L285.0 292.6 L282.1 292.9 L278.6 292.6 L275.0 291.7 L272.1 290.3 L269.3 288.6 L266.4 286.9 L263.6 285.4 L260.7 284.3 L257.9 283.1 L255.7 283.6 L253.6 284.6 L251.4 283.6 L248.6 281.4 L245.7 279.3 L243.6 277.1 L240.7 274.3M353.6 259.3 L352.1 260.7 L351.1 263.6 L351.4 267.1 L352.1 270.7 L352.9 273.6 L350.7 275.0 L347.9 275.7 L345.4 275.7 L344.6 278.6 L343.6 280.7 L342.1 282.9 L340.7 285.0 L338.6 285.0 L336.0 283.6 L333.6 282.6 L332.1 280.0 L330.0 279.3 L328.3 280.7 L326.4 282.9 L324.6 284.3 L322.1 284.0 L321.1 283.6 L320.7 285.7 L319.3 288.3 L317.1 288.9 L314.3 288.3 L312.1 287.1 L310.0 285.4 L307.9 283.6 L305.7 283.1 L303.6 284.3 L301.4 285.7 L298.6 286.0 L296.0 286.4M529.0 434.0 L530.3 435.5 L531.8 434.7 L533.6 432.6 L535.3 430.9 L537.6 429.4 L540.4 428.6 L543.9 428.6 L546.7 429.7 L548.7 431.5 L549.0 433.5 L550.7 435.5 L553.0 437.2 L555.9 438.3 L558.8 439.7 L561.6 441.2 L563.9 442.9 L565.6 444.6 L567.0 446.6 L569.1 448.1 L570.8 448.7M519.3 562.3 L521.0 562.0 L522.7 563.0 L524.0 564.7 L524.7 566.3 L525.3 568.0 L525.7 569.3 L527.0 570.0 L528.7 569.3 L530.0 570.0 L531.3 571.0 L531.6 571.7 L532.7 573.7 L532.7 576.3 L534.0 578.3 L535.3 580.3M535.0 581.4 L535.7 582.9 L533.6 585.7 L532.1 587.9 L533.1 590.7 L533.6 592.9 L530.7 594.0 L527.9 595.0 L525.7 597.4 L523.6 600.0 L521.4 602.9 L519.3 605.4 L518.6 607.1 L520.0 609.3 L521.4 611.7 L522.9 614.0 L523.6 616.4 L523.6 618.3M560.7 597.4 L557.9 598.3 L554.3 599.3 L550.7 600.4 L547.1 601.7 L545.0 603.6 L542.9 606.4 L541.7 609.3 L540.0 612.1 L538.3 615.0 L537.1 617.9 L536.4 621.4 L535.4 625.0 L534.3 628.6 L532.9 632.1 L531.4 635.0 L530.3 637.9 L528.6 640.0 L526.4 642.1 L525.0 645.0 L523.6 648.6 L522.6 652.1 L522.1 655.0" fill="none" stroke="#3535ff" stroke-opacity="0.9" stroke-width="0.85" stroke-linejoin="round"/>
<path d="M367.9 157.9 L368.6 162.9 L370.3 165.7 L373.6 167.9 L376.4 169.6 L379.3 171.0 L382.1 170.1 L385.7 171.0 L388.6 173.6 L387.9 176.4 L388.3 180.0 L389.7 183.6 L391.4 186.7 L389.3 187.9 L386.4 188.1 L384.3 190.0 L383.1 192.9 L382.6 196.4 L380.7 199.3 L378.6 201.4 L376.4 203.6 L375.7 207.1 L377.9 210.0 L380.7 212.1 L382.1 213.6 L380.0 215.7 L378.3 218.6 L378.9 221.4 L381.4 225.0 L383.6 227.9 L385.7 231.4 L387.1 233.9 L390.0 233.6 L393.6 235.0 L396.4 236.1 L399.3 237.9 L402.1 239.6 L405.0 241.4 L407.9 243.3 L410.7 244.7 L413.6 245.3 L417.1 245.7 L420.7 244.7 L424.3 243.9 L427.9 242.9 L430.7 241.4 L432.9 240.0 L434.6 239.3 L435.4 241.4 L435.0 244.3 L436.4 246.4 L438.3 248.6 L438.6 251.4 L437.1 254.3 L435.0 257.1 L432.9 260.0 L431.1 262.0M438.6 251.4 L437.1 254.3 L435.0 257.1 L432.9 260.0 L430.7 262.1 L428.6 264.3 L426.4 267.1 L424.3 269.3 L422.9 272.1 L423.6 275.7 L425.0 280.0M380.0 212.1 L381.1 211.6 L381.9 212.7 L381.1 213.9 L380.0 213.6M415.0 286.4 L415.7 284.3 L417.4 282.6 L418.9 283.1 L418.3 285.0" fill="none" stroke="#000" stroke-opacity="0.7" stroke-width="0.75" stroke-linejoin="round"/>
<path d="M565.8 341.7 L569.1 345.0 L572.5 348.4 L576.0 353.0 L579.4 358.8 L582.6 364.5M591.1 393.7 L592.0 400.0 L593.2 406.9 L593.7 410.6M535.3 523.0 L540.7 524.6 L546.7 526.3 L552.7 527.7 L556.7 523.7 L562.0 517.0" fill="none" stroke="#000" stroke-opacity="0.7" stroke-width="0.8"/>
<path d="M277.5 158V653M314.0 158V653M350.5 158V653M387.0 158V653M423.5 158V653M460.0 158V653M496.5 158V653M533.0 158V653M569.5 158V653M606.0 158V653M642.5 158V653M679.0 158V653M715.5 158V653M242 651.8H752M242 604.5H752M242 556.3H752M242 507.8H752M242 458.8H752M242 409.5H752M242 359.8H752M242 309.7H752M242 259.2H752M242 208.2H752" stroke="#000" stroke-opacity="0.6" stroke-width="0.92" stroke-dasharray="2.08 2.08" fill="none"/>
<path d="M559.3 355.2 L560.5 358.8 L564.2 358.8 L561.2 361.0 L562.4 364.6 L559.3 362.4 L556.2 364.6 L557.4 361.0 L554.4 358.8 L558.1 358.8ZM512.3 397.3 L513.5 400.9 L517.2 400.9 L514.2 403.1 L515.4 406.7 L512.3 404.5 L509.2 406.7 L510.4 403.1 L507.4 400.9 L511.1 400.9ZM534.5 400.1 L535.7 403.7 L539.4 403.7 L536.4 405.9 L537.6 409.5 L534.5 407.3 L531.4 409.5 L532.6 405.9 L529.6 403.7 L533.3 403.7ZM568.5 395.5 L569.7 399.1 L573.4 399.1 L570.4 401.3 L571.6 404.9 L568.5 402.7 L565.4 404.9 L566.6 401.3 L563.6 399.1 L567.3 399.1ZM557.6 410.2 L558.8 413.8 L562.5 413.8 L559.5 416.0 L560.7 419.6 L557.6 417.4 L554.5 419.6 L555.7 416.0 L552.7 413.8 L556.4 413.8ZM540.4 421.3 L541.6 424.9 L545.3 424.9 L542.3 427.1 L543.5 430.7 L540.4 428.5 L537.3 430.7 L538.5 427.1 L535.5 424.9 L539.2 424.9ZM508.6 431.6 L509.8 435.2 L513.5 435.2 L510.5 437.4 L511.7 441.0 L508.6 438.8 L505.5 441.0 L506.7 437.4 L503.7 435.2 L507.4 435.2ZM573.7 442.6 L574.9 446.2 L578.6 446.2 L575.6 448.4 L576.8 452.0 L573.7 449.8 L570.6 452.0 L571.8 448.4 L568.8 446.2 L572.5 446.2ZM537.3 450.3 L538.5 453.9 L542.2 453.9 L539.2 456.1 L540.4 459.7 L537.3 457.5 L534.2 459.7 L535.4 456.1 L532.4 453.9 L536.1 453.9ZM510.4 453.5 L511.6 457.1 L515.3 457.1 L512.3 459.3 L513.5 462.9 L510.4 460.7 L507.3 462.9 L508.5 459.3 L505.5 457.1 L509.2 457.1ZM546.4 468.3 L547.6 471.9 L551.3 471.9 L548.3 474.1 L549.5 477.7 L546.4 475.5 L543.3 477.7 L544.5 474.1 L541.5 471.9 L545.2 471.9ZM546.3 515.4 L547.5 519.0 L551.2 519.0 L548.2 521.2 L549.4 524.8 L546.3 522.6 L543.2 524.8 L544.4 521.2 L541.4 519.0 L545.1 519.0Z" fill="#ffff00" stroke="#008000" stroke-width="1.04" stroke-linejoin="round"/>
<path d="M0 0H1050V750H0Z M242 157H752V653.6H242Z" fill="#fff" fill-rule="evenodd"/>
<path d="M242 87.5H752 M242 122.5H752" stroke="#6a6a6a" stroke-width="1" fill="none"/>
<path d="M789.5 158V653 M825.5 158V653" stroke="#6a6a6a" stroke-width="1" fill="none"/>
<path d="M242 54H862V652.8H752" stroke="#000" stroke-width="2.07" fill="none" stroke-linejoin="miter"/>
<path d="M242 53V157" stroke="#000" stroke-width="2.07" fill="none"/>
<path d="M241.6 157V652.85H752" stroke="#000" stroke-width="1.35" fill="none"/>
<path d="M241 157.5H863" stroke="#000" stroke-width="2.9" fill="none"/>
<path d="M752.5 53V654" stroke="#000" stroke-width="3" fill="none"/>
<rect x="158.5" y="690.4" width="787" height="37.9" fill="#fff" stroke="#111" stroke-width="1.04"/>
<g font-family="Liberation Sans, sans-serif" fill="#000" ><text x="244.5" y="46.4" font-size="23.3" text-anchor="start" textLength="89.8" lengthAdjust="spacingAndGlyphs">SAETTA</text><text x="341.3" y="46.4" font-size="23.3" text-anchor="start" textLength="101.1" lengthAdjust="spacingAndGlyphs">Realtime</text><text x="450.4" y="46.4" font-size="23.3" text-anchor="start" textLength="106.1" lengthAdjust="spacingAndGlyphs">Lightning</text><text x="563.9" y="46.4" font-size="23.3" text-anchor="start" textLength="97.4" lengthAdjust="spacingAndGlyphs">Mapping</text><text x="669.2" y="46.4" font-size="23.3" text-anchor="start" textLength="62.1" lengthAdjust="spacingAndGlyphs">Array</text><text x="739.3" y="46.4" font-size="23.3" text-anchor="start" textLength="9.3" lengthAdjust="spacingAndGlyphs">-</text><text x="754.1" y="46.4" font-size="23.3" text-anchor="start" textLength="102.3" lengthAdjust="spacingAndGlyphs">25/12/17</text><text x="432.3" y="719" font-size="19.4" text-anchor="start" textLength="44.7" lengthAdjust="spacingAndGlyphs">from</text><text x="484.3" y="719" font-size="19.4" text-anchor="start" textLength="82.8" lengthAdjust="spacingAndGlyphs">17:40:00</text><text x="573.1" y="719" font-size="19.4" text-anchor="start" textLength="18.6" lengthAdjust="spacingAndGlyphs">to</text><text x="598.2" y="719" font-size="19.4" text-anchor="start" textLength="83.6" lengthAdjust="spacingAndGlyphs">17:49:59</text><text x="219.4" y="52" font-size="10.6" text-anchor="start" textLength="11.8" lengthAdjust="spacingAndGlyphs">15</text><text x="219.4" y="87.2" font-size="10.6" text-anchor="start" textLength="11.8" lengthAdjust="spacingAndGlyphs">10</text><text x="220.1" y="122.2" font-size="10.6" text-anchor="start" textLength="5.9" lengthAdjust="spacingAndGlyphs">5</text><text x="220.1" y="157" font-size="10.6" text-anchor="start" textLength="5.9" lengthAdjust="spacingAndGlyphs">0</text><text x="195.7" y="104.9" font-size="12.6" text-anchor="middle" textLength="18.2" lengthAdjust="spacingAndGlyphs">Km</text><text x="756.1" y="667" font-size="10.6" text-anchor="middle" textLength="5.9" lengthAdjust="spacingAndGlyphs">0</text><text x="792.1" y="667" font-size="10.6" text-anchor="middle" textLength="5.9" lengthAdjust="spacingAndGlyphs">5</text><text x="831" y="667" font-size="10.6" text-anchor="middle" textLength="11.8" lengthAdjust="spacingAndGlyphs">10</text><text x="868" y="667" font-size="10.6" text-anchor="middle" textLength="11.8" lengthAdjust="spacingAndGlyphs">15</text><text x="816.7" y="676" font-size="12.6" text-anchor="middle" textLength="18.2" lengthAdjust="spacingAndGlyphs">Km</text><text x="241.7" y="666.8" font-size="10.6" text-anchor="middle" textLength="17.2" lengthAdjust="spacingAndGlyphs">5°E</text><text x="278.2" y="666.8" font-size="10.6" text-anchor="middle" textLength="27.2" lengthAdjust="spacingAndGlyphs">5.5°E</text><text x="314.7" y="666.8" font-size="10.6" text-anchor="middle" textLength="17.2" lengthAdjust="spacingAndGlyphs">6°E</text><text x="351.2" y="666.8" font-size="10.6" text-anchor="middle" textLength="27.2" lengthAdjust="spacingAndGlyphs">6.5°E</text><text x="387.7" y="666.8" font-size="10.6" text-anchor="middle" textLength="17.2" lengthAdjust="spacingAndGlyphs">7°E</text><text x="424.2" y="666.8" font-size="10.6" text-anchor="middle" textLength="27.2" lengthAdjust="spacingAndGlyphs">7.5°E</text><text x="460.7" y="666.8" font-size="10.6" text-anchor="middle" textLength="17.2" lengthAdjust="spacingAndGlyphs">8°E</text><text x="497.2" y="666.8" font-size="10.6" text-anchor="middle" textLength="27.2" lengthAdjust="spacingAndGlyphs">8.5°E</text><text x="533.7" y="666.8" font-size="10.6" text-anchor="middle" textLength="17.2" lengthAdjust="spacingAndGlyphs">9°E</text><text x="570.2" y="666.8" font-size="10.6" text-anchor="middle" textLength="27.2" lengthAdjust="spacingAndGlyphs">9.5°E</text><text x="606.7" y="666.8" font-size="10.6" text-anchor="middle" textLength="23.6" lengthAdjust="spacingAndGlyphs">10°E</text><text x="643.2" y="666.8" font-size="10.6" text-anchor="middle" textLength="34.1" lengthAdjust="spacingAndGlyphs">10.5°E</text><text x="679.7" y="666.8" font-size="10.6" text-anchor="middle" textLength="22.8" lengthAdjust="spacingAndGlyphs">11°E</text><text x="716.2" y="666.8" font-size="10.6" text-anchor="middle" textLength="33.3" lengthAdjust="spacingAndGlyphs">11.5°E</text><text x="233.8" y="655.5" font-size="10.6" text-anchor="end" textLength="24.2" lengthAdjust="spacingAndGlyphs">40°N</text><text x="233.8" y="607.7" font-size="10.6" text-anchor="end" textLength="34.8" lengthAdjust="spacingAndGlyphs">40.5°N</text><text x="233.8" y="559.5" font-size="10.6" text-anchor="end" textLength="24.2" lengthAdjust="spacingAndGlyphs">41°N</text><text x="233.8" y="511.0" font-size="10.6" text-anchor="end" textLength="34.8" lengthAdjust="spacingAndGlyphs">41.5°N</text><text x="233.8" y="462.0" font-size="10.6" text-anchor="end" textLength="24.2" lengthAdjust="spacingAndGlyphs">42°N</text><text x="233.8" y="412.7" font-size="10.6" text-anchor="end" textLength="34.8" lengthAdjust="spacingAndGlyphs">42.5°N</text><text x="233.8" y="363.0" font-size="10.6" text-anchor="end" textLength="24.2" lengthAdjust="spacingAndGlyphs">43°N</text><text x="233.8" y="312.9" font-size="10.6" text-anchor="end" textLength="34.8" lengthAdjust="spacingAndGlyphs">43.5°N</text><text x="233.8" y="262.4" font-size="10.6" text-anchor="end" textLength="24.2" lengthAdjust="spacingAndGlyphs">44°N</text><text x="233.8" y="211.4" font-size="10.6" text-anchor="end" textLength="34.8" lengthAdjust="spacingAndGlyphs">44.5°N</text></g>
</svg>
</body></html>
